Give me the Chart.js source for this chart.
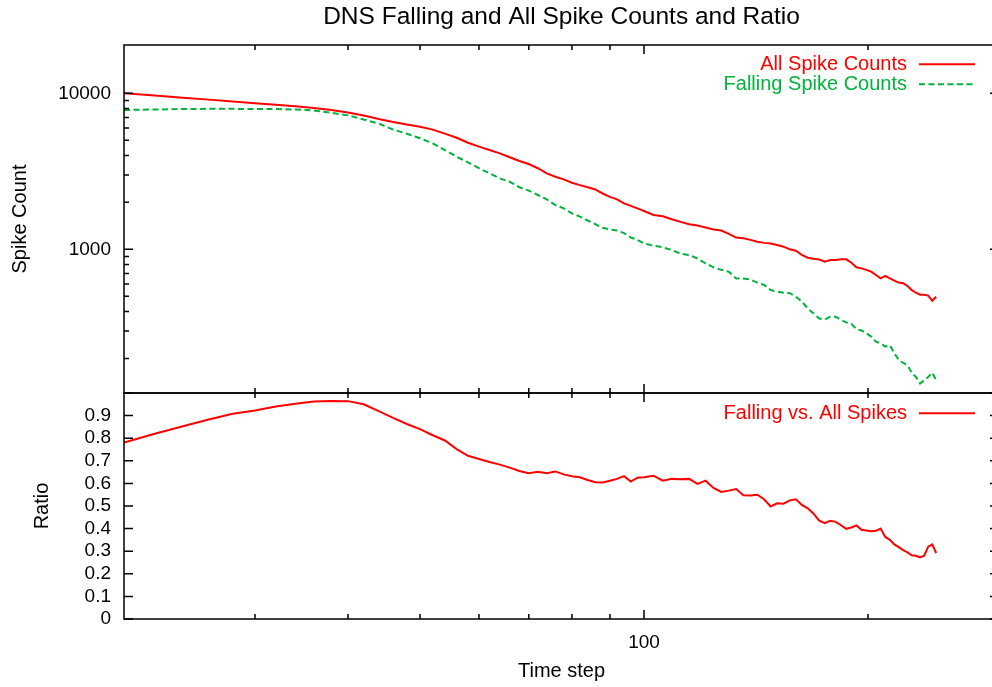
<!DOCTYPE html>
<html>
<head>
<meta charset="utf-8">
<title>DNS Falling and All Spike Counts and Ratio</title>
<script src="https://cdn.jsdelivr.net/npm/chart.js@4.4.0/dist/chart.umd.min.js"></script>
<style>
    html, body { margin: 0; padding: 0; background: #fff; }
    #wrap { position: relative; width: 992px; height: 687px; overflow: hidden; }
    #wrap canvas { position: absolute; left: 0; }
    #countChart { top: 0; }
    #ratioChart { top: 380px; }
</style>
</head>
<body>
<div id="wrap">
    <canvas id="countChart" width="1000" height="400"></canvas>
    <canvas id="ratioChart" width="1000" height="307"></canvas>
</div>
<script>
// time steps shared by all three series
const timeSteps = [
    20, 22, 24, 26, 28, 30, 32, 34, 36, 38, 40, 42, 44, 46, 48, 50, 52, 54, 56, 58,
    60, 62, 64, 66, 68, 70, 72, 74, 76, 78, 80, 82, 84, 86, 88, 90, 92, 94, 96, 98, 100,
    103, 106, 109, 112, 115, 118, 121, 124, 127, 130, 133, 136, 139, 142, 145, 148,
    151, 154, 157, 160, 163, 166, 169, 172, 175, 178, 181, 184, 187, 190, 193, 196,
    199, 202, 205, 208, 211, 214, 217, 220, 223, 226, 229, 232, 235, 238, 241, 244, 247
];

const allSpikeCounts = [
    10000, 9670, 9370, 9110, 8860, 8640, 8450, 8270, 8060, 7820, 7530, 7200, 6840, 6550, 6310, 6100, 5850, 5520, 5190, 4820,
    4550, 4330, 4120, 3890, 3680, 3520, 3310, 3070, 2920, 2810, 2670, 2580, 2500, 2420, 2280, 2170, 2090, 1970, 1900, 1830, 1760,
    1660, 1630, 1560, 1500, 1450, 1420, 1380, 1340, 1320, 1255, 1190, 1176, 1150, 1120, 1100, 1090,
    1065, 1040, 1000, 980, 920, 884, 870, 860, 834, 855, 855, 863, 863, 821, 767, 755,
    739, 719, 685, 651, 676, 651, 630, 612, 606, 582, 548, 527, 512, 512, 505, 468, 497
];

const fallingSpikeCounts = [
    7820, 7870, 7930, 7950, 7950, 7930, 7930, 7870, 7760, 7510, 7220, 6790, 6400, 5860, 5510, 5150, 4780, 4330, 3920, 3610,
    3310, 3070, 2850, 2710, 2500, 2380, 2230, 2090, 1920, 1830, 1700, 1620, 1530, 1450, 1375, 1340, 1320, 1270, 1190, 1150, 1090,
    1055, 1030, 990, 937, 920, 874, 814, 767, 739, 719, 651, 651, 640, 612, 592, 548,
    535, 527, 523, 497, 462, 418, 388, 360, 355, 370, 370, 353, 340, 333, 308, 302,
    290, 276, 256, 250, 238, 243, 216, 195, 187, 181, 162, 152, 138, 145, 152, 162, 145
];

const fallingRatio = [
    0.781, 0.82, 0.853, 0.883, 0.908, 0.923, 0.94, 0.952, 0.962, 0.965, 0.964, 0.95, 0.92, 0.89, 0.863, 0.84, 0.813, 0.79, 0.752, 0.722,
    0.708, 0.695, 0.683, 0.67, 0.655, 0.645, 0.652, 0.645, 0.653, 0.64, 0.632, 0.627, 0.615, 0.605, 0.604, 0.612, 0.62, 0.632, 0.608, 0.625, 0.627,
    0.634, 0.612, 0.62, 0.618, 0.62, 0.598, 0.612, 0.58, 0.562, 0.568, 0.575, 0.548, 0.546, 0.55, 0.53, 0.498,
    0.512, 0.51, 0.525, 0.53, 0.505, 0.49, 0.466, 0.435, 0.424, 0.435, 0.43, 0.415, 0.399, 0.405, 0.414, 0.395,
    0.392, 0.388, 0.39, 0.40, 0.363, 0.35, 0.33, 0.318, 0.305, 0.295, 0.282, 0.28, 0.272, 0.28, 0.32, 0.33, 0.292
];

// tick positions
const timeTicks = [20, 30, 40, 50, 60, 70, 80, 90, 100, 200, 300];
const countTicks = [200, 300, 400, 500, 600, 700, 800, 900, 1000, 2000, 3000, 4000, 5000, 6000, 7000, 8000, 9000, 10000];
const ratioTicks = [0, 0.1, 0.2, 0.3, 0.4, 0.5, 0.6, 0.7, 0.8, 0.9, 1];

const FONT = '"Liberation Sans", Arial, Helvetica, sans-serif';
Chart.defaults.font.family = FONT;
Chart.defaults.font.size = 19;
Chart.defaults.color = '#000';

const toPoints = vals => timeSteps.map((t, i) => ({x: t, y: vals[i]}));

/**
 * gnuplot-like frame: border plus inward ticks on every side
 */
const frameTicks = {
    id: 'frameTicks',
    afterDraw(chart, args, opts) {
        const {ctx, chartArea: a} = chart;
        const xs = chart.scales.x;
        const ys = chart.scales.y;
        ctx.save();
        ctx.strokeStyle = '#000';
        ctx.lineWidth = 1.5;
        ctx.beginPath();
        timeTicks.forEach(v => {
            const px = xs.getPixelForValue(v);
            if (px < a.left + 1 || px > a.right - 1) return;
            const len = v === 100 ? 9 : 5;
            ctx.moveTo(px, a.top); ctx.lineTo(px, a.top + len);
            ctx.moveTo(px, a.bottom); ctx.lineTo(px, a.bottom - len);
        });
        opts.yTicks.forEach(v => {
            const py = ys.getPixelForValue(v);
            const len = opts.yMajor(v) ? 9 : 5;
            ctx.moveTo(a.left, py); ctx.lineTo(a.left + len, py);
            ctx.moveTo(a.right, py); ctx.lineTo(a.right - len, py);
        });
        ctx.stroke();
        ctx.strokeRect(a.left, a.top, a.right - a.left, a.bottom - a.top);
        ctx.restore();
    }
};

/**
 * key in the top right corner: label then line sample
 */
const seriesKey = {
    id: 'seriesKey',
    afterDraw(chart, args, opts) {
        const {ctx, chartArea: a} = chart;
        ctx.save();
        ctx.font = '20px ' + FONT;
        ctx.textAlign = 'right';
        ctx.textBaseline = 'middle';
        chart.data.datasets.forEach((ds, i) => {
            const y = a.top + opts.top + i * 20;
            ctx.fillStyle = ds.borderColor;
            ctx.fillText(ds.label, a.right - 92, y);
            ctx.strokeStyle = ds.borderColor;
            ctx.lineWidth = ds.borderWidth;
            ctx.setLineDash(ds.borderDash || []);
            ctx.beginPath();
            ctx.moveTo(a.right - 80, y);
            ctx.lineTo(a.right - 24, y);
            ctx.stroke();
        });
        ctx.restore();
    }
};

const noGrid = {display: false, drawTicks: false};
const noBorder = {display: false};

// fixed axis sizes, and no extra room for edge labels
const fixWidth = s => { s.width = 124; s.paddingTop = 0; s.paddingBottom = 0; };
const fixHeight = s => { s.height = 68; s.paddingLeft = 0; s.paddingRight = 0; };

// upper panel: spike counts
new Chart(document.getElementById('countChart'), {
    type: 'line',
    data: {
        datasets: [{
            label: 'All Spike Counts',
            data: toPoints(allSpikeCounts),
            borderColor: '#ff0000',
            borderWidth: 2,
            pointRadius: 0,
            tension: 0
        }, {
            label: 'Falling Spike Counts',
            data: toPoints(fallingSpikeCounts),
            borderColor: '#00b33c',
            borderWidth: 2,
            borderDash: [6, 3.5],
            pointRadius: 0,
            tension: 0
        }]
    },
    plugins: [frameTicks, seriesKey],
    options: {
        responsive: false,
        devicePixelRatio: 1,
        animation: false,
        events: [],
        layout: {padding: {top: 0, left: 0, right: 1, bottom: 7}, autoPadding: false},
        plugins: {
            legend: {display: false},
            tooltip: {enabled: false},
            title: {
                display: true,
                fullSize: false,
                text: 'DNS Falling and All Spike Counts and Ratio',
                font: {size: 24.5, weight: 'normal'},
                color: '#000',
                padding: {top: 2.3, bottom: 13.3}
            },
            frameTicks: {
                yTicks: countTicks,
                yMajor: v => v === 1000 || v === 10000
            },
            seriesKey: {top: 19.3}
        },
        scales: {
            x: {
                type: 'logarithmic',
                min: 20,
                max: 300,
                display: false
            },
            y: {
                type: 'logarithmic',
                min: 120,
                max: 20400,
                grid: noGrid,
                border: noBorder,
                afterBuildTicks: s => { s.ticks = countTicks.map(v => ({value: v})); },
                afterFit: fixWidth,
                ticks: {
                    autoSkip: false,
                    padding: 13,
                    callback: v => (v === 1000 || v === 10000) ? String(v) : ''
                },
                title: {
                    display: true,
                    text: 'Spike Count',
                    font: {size: 20},
                    padding: {top: 8, bottom: 0}
                }
            }
        }
    }
});

// lower panel: falling / all ratio
new Chart(document.getElementById('ratioChart'), {
    type: 'line',
    data: {
        datasets: [{
            label: 'Falling vs. All Spikes',
            data: toPoints(fallingRatio),
            borderColor: '#ff0000',
            borderWidth: 2,
            pointRadius: 0,
            tension: 0
        }]
    },
    plugins: [frameTicks, seriesKey],
    options: {
        responsive: false,
        devicePixelRatio: 1,
        animation: false,
        events: [],
        layout: {padding: {top: 13, left: 0, right: 1, bottom: 0}, autoPadding: false},
        plugins: {
            legend: {display: false},
            tooltip: {enabled: false},
            frameTicks: {
                yTicks: ratioTicks,
                yMajor: () => true
            },
            seriesKey: {top: 20.3}
        },
        scales: {
            x: {
                type: 'logarithmic',
                min: 20,
                max: 300,
                grid: noGrid,
                border: noBorder,
                afterBuildTicks: s => { s.ticks = timeTicks.map(v => ({value: v})); },
                afterFit: fixHeight,
                ticks: {
                    autoSkip: false,
                    maxRotation: 0,
                    padding: 12.6,
                    callback: v => v === 100 ? '100' : ''
                },
                title: {
                    display: true,
                    text: 'Time step',
                    font: {size: 20},
                    padding: {top: 0, bottom: 4}
                }
            },
            y: {
                type: 'linear',
                min: 0,
                max: 1,
                grid: noGrid,
                border: noBorder,
                afterBuildTicks: s => { s.ticks = ratioTicks.map(v => ({value: v})); },
                afterFit: fixWidth,
                ticks: {
                    autoSkip: false,
                    padding: 13,
                    callback: v => v >= 1 ? '' : String(Math.round(v * 10) / 10)
                },
                title: {
                    display: true,
                    text: 'Ratio',
                    font: {size: 20},
                    padding: {top: 30, bottom: 0}
                }
            }
        }
    }
});
</script>
</body>
</html>
